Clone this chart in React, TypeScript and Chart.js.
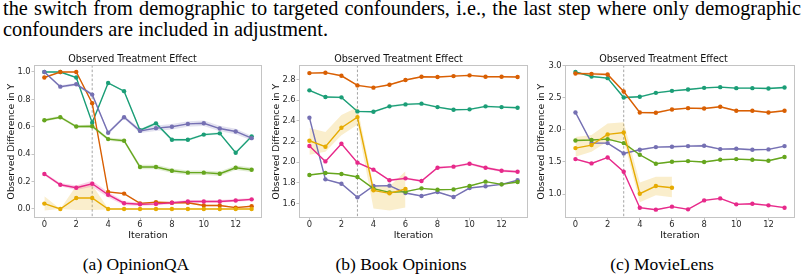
import React, { useEffect, useRef } from "react";
import { Chart, registerables } from "chart.js";

Chart.register(...registerables);

// ---------- data ----------
const ITERATIONS = [0, 1, 2, 3, 4, 5, 6, 7, 8, 9, 10, 11, 12, 13];
const X_TICKS = [0, 2, 4, 6, 8, 10, 12];
const SWITCH_ITERATION = 3;

const TEAL = "#1b9e77";
const ORANGE = "#d95f02";
const PURPLE = "#7570b3";
const PINK = "#e7298a";
const GREEN = "#66a61e";
const YELLOW = "#e6ab02";

// (a) OpinionQA
const qaTeal = [1.0, 1.0, 0.96, 0.63, 0.92, 0.86, 0.575, 0.625, 0.505, 0.505, 0.543, 0.552, 0.41, 0.53];
const qaTealSd = [0.004, 0.004, 0.005, 0.006, 0.006, 0.006, 0.008, 0.012, 0.01, 0.008, 0.008, 0.008, 0.008, 0.012];
const qaOrange = [0.96, 1.0, 1.0, 0.772, 0.124, 0.112, 0.041, 0.05, 0.045, 0.045, 0.025, 0.025, 0.01, 0.02];
const qaOrangeSd = [0.004, 0.004, 0.004, 0.006, 0.006, 0.006, 0.005, 0.005, 0.005, 0.005, 0.005, 0.005, 0.005, 0.005];
const qaPurple = [1.0, 0.893, 0.91, 0.835, 0.556, 0.67, 0.57, 0.59, 0.6, 0.621, 0.626, 0.587, 0.566, 0.517];
const qaPurpleSd = [0.005, 0.01, 0.01, 0.012, 0.012, 0.012, 0.016, 0.02, 0.02, 0.02, 0.02, 0.02, 0.02, 0.018];
const qaPink = [0.255, 0.177, 0.155, 0.184, 0.104, 0.042, 0.034, 0.037, 0.045, 0.055, 0.055, 0.055, 0.062, 0.07];
const qaPinkSd = [0.01, 0.012, 0.016, 0.022, 0.02, 0.014, 0.012, 0.01, 0.01, 0.01, 0.01, 0.01, 0.01, 0.01];
const qaGreen = [0.648, 0.67, 0.602, 0.604, 0.51, 0.498, 0.306, 0.306, 0.279, 0.265, 0.265, 0.257, 0.301, 0.286];
const qaGreenSd = [0.01, 0.01, 0.01, 0.012, 0.012, 0.012, 0.016, 0.016, 0.016, 0.016, 0.016, 0.016, 0.016, 0.016];
const qaYellow = [0.039, 0.0, 0.08, 0.08, 0.0, 0.0, 0.0, 0.0, 0.0, 0.0, 0.0, 0.0, 0.0, 0.0];
const qaYellowLo = [-0.012, 0.0, -0.007, -0.007, -0.004, -0.004, -0.004, -0.004, -0.004, -0.004, -0.004, -0.004, -0.004, -0.004];
const qaYellowHi = [0.092, 0.0, 0.17, 0.175, 0.004, 0.004, 0.004, 0.004, 0.004, 0.004, 0.004, 0.004, 0.004, 0.004];
const qaYTicks = [0.0, 0.2, 0.4, 0.6, 0.8, 1.0];

// (b) Book Opinions
const bkOrange = [2.861, 2.865, 2.835, 2.742, 2.72, 2.748, 2.794, 2.826, 2.823, 2.832, 2.839, 2.826, 2.826, 2.823];
const bkOrangeSd = [0.008, 0.008, 0.008, 0.008, 0.008, 0.008, 0.008, 0.008, 0.008, 0.008, 0.008, 0.008, 0.008, 0.008];
const bkTeal = [2.694, 2.629, 2.626, 2.49, 2.487, 2.539, 2.558, 2.565, 2.532, 2.506, 2.51, 2.539, 2.532, 2.526];
const bkTealSd = [0.008, 0.008, 0.008, 0.01, 0.008, 0.01, 0.01, 0.01, 0.008, 0.008, 0.008, 0.008, 0.008, 0.008];
const bkYellow = [2.206, 2.148, 2.332, 2.435, 1.726, 1.697, 1.739, null, null, null, null, null, null, null];
const bkYellowLo = [2.07, 2.1, 2.26, 2.36, 1.55, 1.53, 1.56, null, null, null, null, null, null, null];
const bkYellowHi = [2.33, 2.29, 2.455, 2.53, 1.77, 1.765, 1.91, null, null, null, null, null, null, null];
const bkPink = [2.155, 2.006, 2.177, 1.994, 1.926, 1.823, 1.842, 1.816, 1.945, 1.955, 1.984, 1.945, 1.916, 1.906];
const bkPinkSd = [0.008, 0.008, 0.008, 0.008, 0.008, 0.01, 0.01, 0.01, 0.01, 0.01, 0.012, 0.012, 0.012, 0.012];
const bkGreen = [1.874, 1.894, 1.884, 1.855, 1.742, 1.706, 1.713, 1.745, 1.732, 1.735, 1.768, 1.81, 1.784, 1.806];
const bkGreenSd = [0.005, 0.005, 0.005, 0.005, 0.006, 0.006, 0.006, 0.006, 0.006, 0.006, 0.006, 0.006, 0.006, 0.006];
const bkPurple = [2.429, 1.832, 1.79, 1.658, 1.768, 1.771, 1.7, 1.671, 1.71, 1.661, 1.748, 1.765, 1.784, 1.823];
const bkPurpleSd = [0.004, 0.004, 0.004, 0.004, 0.004, 0.004, 0.004, 0.004, 0.004, 0.004, 0.004, 0.004, 0.004, 0.004];
const bkYTicks = [1.6, 1.8, 2.0, 2.2, 2.4, 2.6, 2.8];

// (c) MovieLens
const mlTeal = [2.906, 2.834, 2.808, 2.506, 2.517, 2.579, 2.61, 2.631, 2.657, 2.668, 2.652, 2.652, 2.647, 2.662];
const mlTealSd = [0.012, 0.012, 0.012, 0.014, 0.014, 0.014, 0.014, 0.014, 0.014, 0.014, 0.014, 0.014, 0.014, 0.014];
const mlOrange = [2.881, 2.875, 2.865, 2.6, 2.273, 2.268, 2.32, 2.34, 2.335, 2.361, 2.299, 2.299, 2.273, 2.299];
const mlOrangeSd = [0.02, 0.02, 0.02, 0.016, 0.014, 0.014, 0.014, 0.014, 0.014, 0.014, 0.014, 0.014, 0.014, 0.014];
const mlPurple = [2.273, 1.795, 1.795, 1.634, 1.691, 1.732, 1.738, 1.748, 1.753, 1.701, 1.706, 1.691, 1.696, 1.748];
const mlPurpleSd = [0.01, 0.014, 0.014, 0.014, 0.014, 0.014, 0.014, 0.016, 0.016, 0.014, 0.014, 0.014, 0.014, 0.014];
const mlGreen = [1.836, 1.842, 1.857, 1.795, 1.613, 1.473, 1.504, 1.514, 1.499, 1.535, 1.545, 1.535, 1.519, 1.577];
const mlGreenSd = [0.01, 0.01, 0.01, 0.01, 0.012, 0.012, 0.012, 0.012, 0.012, 0.012, 0.012, 0.012, 0.012, 0.012];
const mlYellow = [1.717, 1.764, 1.93, 1.961, 1.005, 1.125, 1.099, null, null, null, null, null, null, null];
const mlYellowLo = [1.58, 1.66, 1.82, 1.84, 0.87, 0.98, 0.95, null, null, null, null, null, null, null];
const mlYellowHi = [1.89, 1.92, 2.1, 2.12, 1.18, 1.27, 1.27, null, null, null, null, null, null, null];
const mlPink = [1.545, 1.478, 1.571, 1.348, 0.787, 0.756, 0.803, 0.761, 0.901, 0.932, 0.839, 0.849, 0.823, 0.787];
const mlPinkSd = [0.012, 0.012, 0.012, 0.012, 0.012, 0.012, 0.012, 0.012, 0.012, 0.012, 0.012, 0.012, 0.012, 0.012];
const mlYTicks = [1.0, 1.5, 2.0, 2.5, 3.0];

const CHART_TITLE = "Observed Treatment Effect";
const X_TITLE = "Iteration";
const Y_TITLE = "Observed Difference in Y";

const TEXT_LINE_1 =
  "the switch from demographic to targeted confounders, i.e., the last step where only demographic";
const TEXT_LINE_2 = "confounders are included in adjustment.";
const CAPTIONS = ["(a) OpinionQA", "(b) Book Opinions", "(c) MovieLens"];

// ---------- helpers ----------
type Series = {
  color: string;
  values: (number | null)[];
  lo: (number | null)[];
  hi: (number | null)[];
};

function mk(color: string, values: number[], sd: number[]): Series {
  return {
    color,
    values,
    lo: values.map((v, i) => v - sd[i]),
    hi: values.map((v, i) => v + sd[i]),
  };
}

function alpha(hex: string, a: number) {
  const n = parseInt(hex.slice(1), 16);
  return `rgba(${(n >> 16) & 255},${(n >> 8) & 255},${n & 255},${a})`;
}

const SPINE = "#c4c4c4";
const TICK_COLOR = "#2a2a2a";
const FONT = "'DejaVu Sans', sans-serif";

const framePlugin = {
  id: "frame",
  beforeDatasetsDraw(chart: any) {
    const { ctx, chartArea } = chart;
    const x = chart.scales.x.getPixelForValue(SWITCH_ITERATION);
    ctx.save();
    ctx.strokeStyle = "#9a9a9a";
    ctx.lineWidth = 0.9;
    ctx.setLineDash([2.5, 2]);
    ctx.beginPath();
    ctx.moveTo(x, chartArea.top);
    ctx.lineTo(x, chartArea.bottom);
    ctx.stroke();
    ctx.restore();
  },
  afterDraw(chart: any) {
    const { ctx, chartArea } = chart;
    ctx.save();
    ctx.strokeStyle = SPINE;
    ctx.lineWidth = 1;
    ctx.strokeRect(
      Math.round(chartArea.left) + 0.5,
      Math.round(chartArea.top) + 0.5,
      Math.round(chartArea.right - chartArea.left) - 1,
      Math.round(chartArea.bottom - chartArea.top) - 1
    );
    ctx.restore();
  },
};

type PanelSpec = {
  series: Series[];
  yMin: number;
  yMax: number;
  yTicks: number[];
  yDecimals: number;
  yAxisWidth: number;
  yTitlePad: number;
  rightPad: number;
  width: number;
};

function buildConfig(p: PanelSpec) {
  const lines: any[] = [];
  const bands: any[] = [];
  const n = p.series.length;
  p.series.forEach((s, i) => {
    lines.push({
      data: s.values,
      borderColor: s.color,
      backgroundColor: s.color,
      borderWidth: 1.4,
      pointRadius: 2.2,
      pointBorderWidth: 0,
      pointBackgroundColor: s.color,
      tension: 0,
      fill: false,
      order: n - i,
    });
  });
  p.series.forEach((s, i) => {
    const loIndex = n + bands.length;
    bands.push({
      data: s.lo,
      borderWidth: 0,
      borderColor: "rgba(0,0,0,0)",
      pointRadius: 0,
      pointHoverRadius: 0,
      fill: false,
      order: 100 + i,
    });
    bands.push({
      data: s.hi,
      borderWidth: 0,
      borderColor: "rgba(0,0,0,0)",
      backgroundColor: alpha(s.color, 0.2),
      pointRadius: 0,
      pointHoverRadius: 0,
      fill: { target: loIndex },
      order: 100 + i,
    });
  });

  return {
    type: "line",
    data: { labels: ITERATIONS, datasets: [...lines, ...bands] },
    plugins: [framePlugin],
    options: {
      animation: false,
      responsive: false,
      devicePixelRatio: 1,
      events: [],
      layout: { padding: { left: 0, right: p.rightPad, top: 0, bottom: 0 } },
      plugins: {
        legend: { display: false },
        tooltip: { enabled: false },
        title: {
          display: true,
          text: CHART_TITLE,
          color: "#111",
          font: { family: FONT, size: 9.6, weight: "normal", lineHeight: 1.13 },
          padding: { top: 4.3, bottom: 0 },
        },
      },
      scales: {
        x: {
          type: "linear",
          min: -0.65,
          max: 13.65,
          afterBuildTicks: (scale: any) => {
            scale.ticks = X_TICKS.map((v) => ({ value: v }));
          },
          afterFit: (scale: any) => {
            scale.height = 32;
          },
          grid: {
            display: true,
            drawOnChartArea: false,
            drawTicks: true,
            tickLength: 2.5,
            color: SPINE,
          },
          border: { display: false },
          ticks: {
            color: TICK_COLOR,
            font: { family: FONT, size: 8.4 },
            padding: -1.2,
            maxRotation: 0,
            callback: (v: any) => String(v),
          },
          title: {
            display: true,
            text: X_TITLE,
            color: "#111",
            font: { family: FONT, size: 9.3, lineHeight: 1.2 },
            padding: { top: 0, bottom: 9.3 },
          },
        },
        y: {
          type: "linear",
          min: p.yMin,
          max: p.yMax,
          afterBuildTicks: (scale: any) => {
            scale.ticks = p.yTicks.map((v) => ({ value: v }));
          },
          afterFit: (scale: any) => {
            scale.width = p.yAxisWidth;
          },
          grid: {
            display: true,
            drawOnChartArea: false,
            drawTicks: true,
            tickLength: 2.5,
            color: SPINE,
          },
          border: { display: false },
          ticks: {
            color: TICK_COLOR,
            font: { family: FONT, size: 8.4 },
            padding: 0.8,
            callback: (v: any) => Number(v).toFixed(p.yDecimals),
          },
          title: {
            display: true,
            text: Y_TITLE,
            color: "#111",
            font: { family: FONT, size: 9.3, lineHeight: 1.2 },
            padding: { top: p.yTitlePad, bottom: 0 },
          },
        },
      },
    },
  };
}

const PANELS: { left: number; spec: PanelSpec }[] = [
  {
    left: 0,
    spec: {
      series: [
        mk(TEAL, qaTeal, qaTealSd),
        mk(ORANGE, qaOrange, qaOrangeSd),
        mk(PURPLE, qaPurple, qaPurpleSd),
        mk(PINK, qaPink, qaPinkSd),
        mk(GREEN, qaGreen, qaGreenSd),
        { color: YELLOW, values: qaYellow, lo: qaYellowLo, hi: qaYellowHi },
      ],
      yMin: -0.066,
      yMax: 1.05,
      yTicks: qaYTicks,
      yDecimals: 1,
      yAxisWidth: 34,
      yTitlePad: 6.5,
      rightPad: 1,
      width: 266,
    },
  },
  {
    left: 266,
    spec: {
      series: [
        mk(TEAL, bkTeal, bkTealSd),
        mk(ORANGE, bkOrange, bkOrangeSd),
        mk(PURPLE, bkPurple, bkPurpleSd),
        mk(PINK, bkPink, bkPinkSd),
        mk(GREEN, bkGreen, bkGreenSd),
        { color: YELLOW, values: bkYellow, lo: bkYellowLo, hi: bkYellowHi },
      ],
      yMin: 1.458,
      yMax: 2.938,
      yTicks: bkYTicks,
      yDecimals: 1,
      yAxisWidth: 33,
      yTitlePad: 5.5,
      rightPad: 1,
      width: 266,
    },
  },
  {
    left: 532,
    spec: {
      series: [
        mk(TEAL, mlTeal, mlTealSd),
        mk(ORANGE, mlOrange, mlOrangeSd),
        mk(PURPLE, mlPurple, mlPurpleSd),
        mk(PINK, mlPink, mlPinkSd),
        mk(GREEN, mlGreen, mlGreenSd),
        { color: YELLOW, values: mlYellow, lo: mlYellowLo, hi: mlYellowHi },
      ],
      yMin: 0.626,
      yMax: 3.011,
      yTicks: mlYTicks,
      yDecimals: 1,
      yAxisWidth: 33,
      yTitlePad: 4.2,
      rightPad: 9,
      width: 272,
    },
  },
];

const CANVAS_TOP = 50;
const CANVAS_HEIGHT = 200;

function Panel({ left, spec }: { left: number; spec: PanelSpec }) {
  const ref = useRef<HTMLCanvasElement | null>(null);
  useEffect(() => {
    if (!ref.current) return;
    const chart = new Chart(ref.current, buildConfig(spec) as any);
    return () => chart.destroy();
  }, []);
  return (
    <canvas
      ref={ref}
      width={spec.width}
      height={CANVAS_HEIGHT}
      style={{
        position: "absolute",
        left,
        top: CANVAS_TOP,
        width: spec.width,
        height: CANVAS_HEIGHT,
      }}
    />
  );
}

const CAPTION_CENTERS = [136, 401, 662];

export default function App() {
  return (
    <div
      style={{
        position: "absolute",
        left: 0,
        top: 0,
        width: 804,
        height: 277,
        background: "#fff",
        overflow: "hidden",
        fontFamily: "'Liberation Serif', 'Times New Roman', serif",
        color: "#000",
      }}
    >
      <div
        style={{
          position: "absolute",
          left: 3,
          top: -3,
          width: 798,
          fontSize: 20.3,
          lineHeight: "22px",
          whiteSpace: "nowrap",
          textAlign: "justify",
          textAlignLast: "justify",
        }}
      >
        {TEXT_LINE_1}
      </div>
      <div
        style={{
          position: "absolute",
          left: 3,
          top: 18,
          fontSize: 20.3,
          lineHeight: "22px",
          whiteSpace: "nowrap",
        }}
      >
        {TEXT_LINE_2}
      </div>
      {PANELS.map((p, i) => (
        <Panel key={i} left={p.left} spec={p.spec} />
      ))}
      {CAPTIONS.map((c, i) => (
        <div
          key={c}
          style={{
            position: "absolute",
            left: CAPTION_CENTERS[i] - 120,
            width: 240,
            top: 254,
            fontSize: 17.5,
            lineHeight: "20px",
            textAlign: "center",
            whiteSpace: "nowrap",
          }}
        >
          {c}
        </div>
      ))}
    </div>
  );
}
